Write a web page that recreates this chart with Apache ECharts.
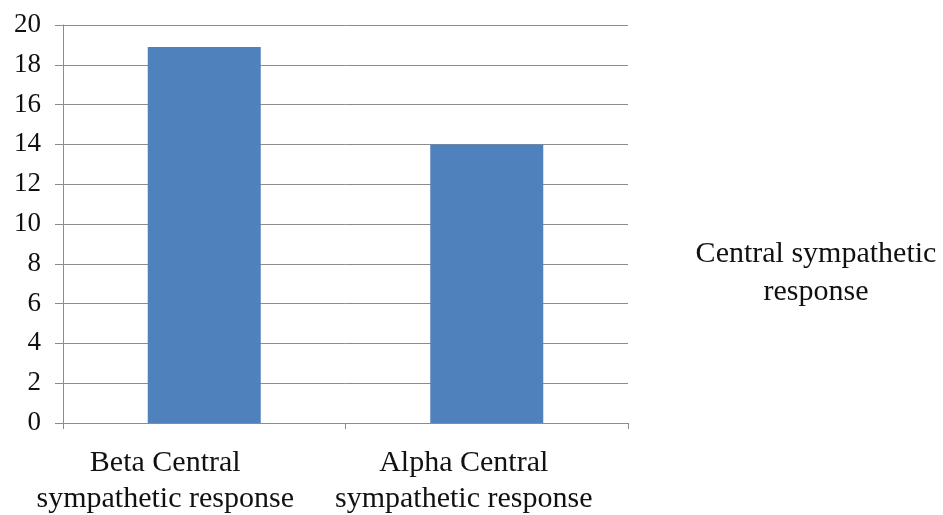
<!DOCTYPE html>
<html>
<head>
<meta charset="utf-8">
<script src="https://cdn.jsdelivr.net/npm/echarts@6/dist/echarts.min.js"></script>
<style>
  html, body { margin: 0; padding: 0; background: #ffffff; }
  #chart { width: 943px; height: 515px; }
</style>
</head>
<body>
<div id="chart"></div>
<script>
// Response categories and their measured values
const categories = ['Beta Central\nsympathetic response', 'Alpha Central\nsympathetic response'];
const responseValues = [18.9, 14];
const seriesName = 'Central sympathetic\nresponse';

const serif = '"Liberation Serif", "DejaVu Serif", serif';
const gridColor = '#8c8c8c';

// Category labels sit a little left of their bars
const labelShift = [39, 23];
const categoryItems = categories.map((name, i) => ({
  value: name,
  textStyle: { padding: [0, labelShift[i] * 2, 0, 0] }
}));

const chart = echarts.init(document.getElementById('chart'));
chart.setOption({
  animation: false,
  backgroundColor: '#ffffff',
  grid: {
    left: 63, right: 315, top: 25, bottom: 92,
    containLabel: false,
    outerBoundsMode: 'none'
  },
  xAxis: {
    type: 'category',
    data: categoryItems,
    axisLine: { show: true, lineStyle: { color: gridColor, width: 1 } },
    axisTick: { show: true, length: 6, lineStyle: { color: gridColor } },
    axisLabel: {
      interval: 0,
      hideOverlap: false,
      color: '#111111',
      fontFamily: serif,
      fontSize: 30,
      lineHeight: 36,
      margin: 22
    }
  },
  yAxis: {
    type: 'value',
    min: 0,
    max: 20,
    interval: 2,
    axisLine: { show: true, lineStyle: { color: gridColor, width: 1 } },
    axisTick: { show: true, length: 8, lineStyle: { color: gridColor } },
    splitLine: { show: true, lineStyle: { color: gridColor, width: 1 } },
    axisLabel: {
      color: '#111111',
      fontFamily: serif,
      fontSize: 27,
      margin: 22
    }
  },
  series: [{
    name: seriesName,
    type: 'bar',
    data: responseValues,
    barWidth: '40%',
    itemStyle: { color: '#4f81bd' }
  }],
  graphic: [{
    type: 'text',
    x: 816,
    y: 235,
    style: {
      text: seriesName,
      textAlign: 'center',
      textVerticalAlign: 'top',
      font: '30px ' + serif,
      lineHeight: 38,
      fill: '#111111'
    }
  }]
});
</script>
</body>
</html>
